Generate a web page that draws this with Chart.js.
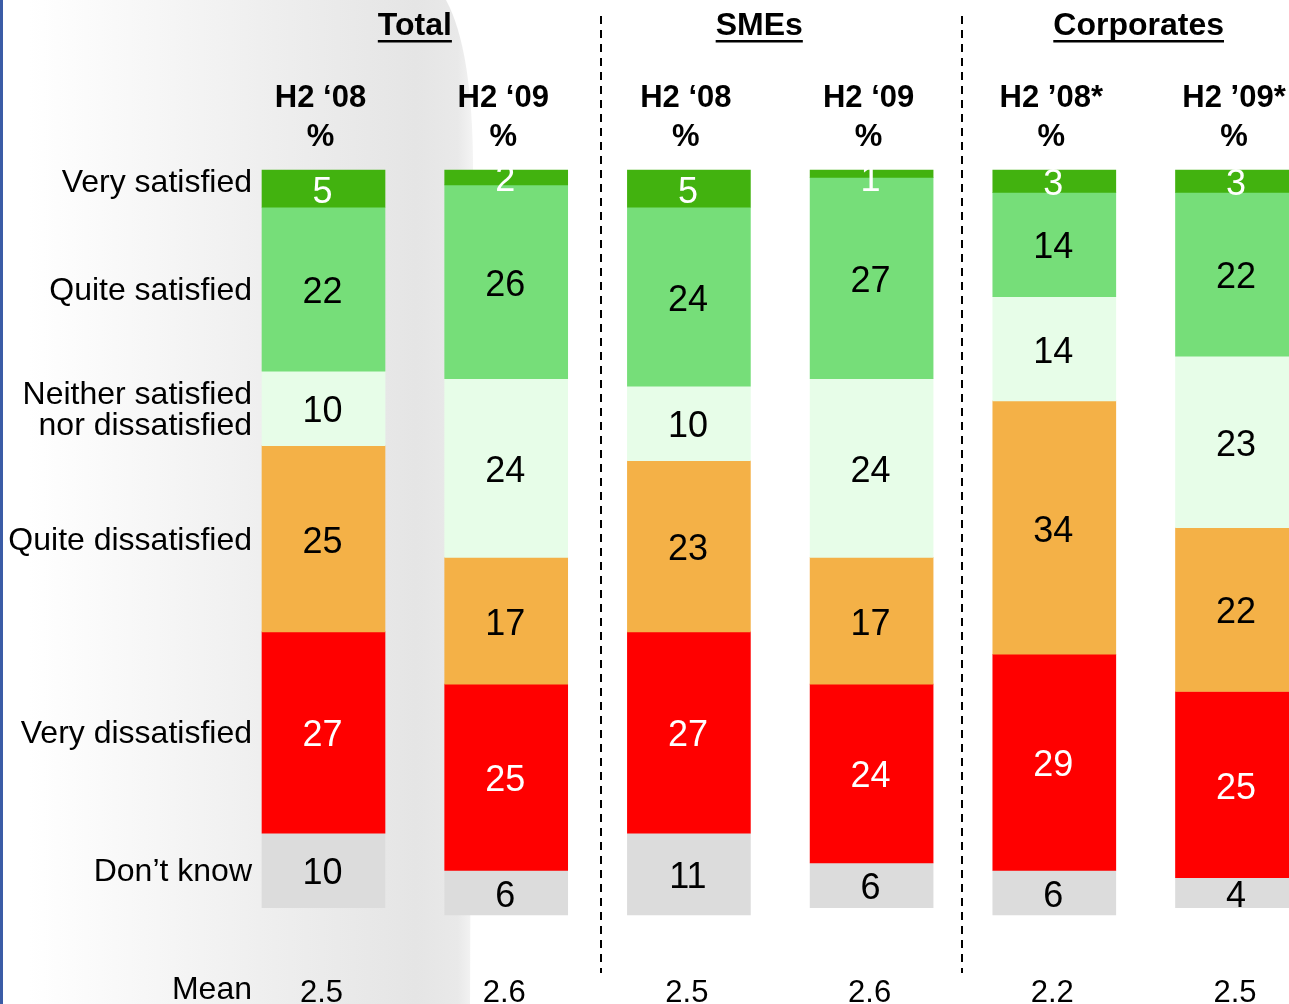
<!DOCTYPE html>
<html lang="en">
<head>
  <meta charset="UTF-8">
  <title>Satisfaction by segment</title>
  <script src="https://cdn.jsdelivr.net/npm/chart.js"></script>
  <style>
    html, body { margin: 0; padding: 0; background: #fff; overflow: hidden; }
    canvas { display: block; }
  </style>
</head>
<body>
<canvas id="chartSatisfaction" width="1289" height="1004"></canvas>

<script>
  // === Data ===
  const columns = ["H2 \u201808", "H2 \u201809", "H2 \u201808", "H2 \u201809", "H2 \u201908*", "H2 \u201909*"];
  const groupNames = ["Total", "SMEs", "Corporates"];
  const segmentNames = ["Very satisfied", "Quite satisfied", "Neither satisfied\nnor dissatisfied",
                        "Quite dissatisfied", "Very dissatisfied", "Don\u2019t know"];
  const verySatisfied     = [5, 2, 5, 1, 3, 3];
  const quiteSatisfied    = [22, 26, 24, 27, 14, 22];
  const neither           = [10, 24, 10, 24, 14, 23];
  const quiteDissatisfied = [25, 17, 23, 17, 34, 22];
  const veryDissatisfied  = [27, 25, 27, 24, 29, 25];
  const dontKnow          = [10, 6, 11, 6, 6, 4];
  const means = ["2.5", "2.6", "2.5", "2.6", "2.2", "2.5"];

  const FONT = '"Liberation Sans", Arial, sans-serif';
  const colours   = ["#42b20f", "#76de79", "#e7fde8", "#f4b147", "#ff0000", "#dcdcdc"];
  const textColor = ["#ffffff", "#000000", "#000000", "#000000", "#ffffff", "#000000"];
  const series = [verySatisfied, quiteSatisfied, neither, quiteDissatisfied, veryDissatisfied, dontKnow];

  // === Slide background: soft grey fade on the left, blue edge ===
  const background = {
    id: "background",
    beforeDraw(chart) {
      const { ctx, width, height } = chart;
      ctx.save();
      ctx.fillStyle = "#ffffff";
      ctx.fillRect(0, 0, width, height);
      const g = ctx.createLinearGradient(0, 0, 472, 0);
      g.addColorStop(0, "#ffffff");
      g.addColorStop(0.06, "#ffffff");
      g.addColorStop(0.55, "#efefef");
      g.addColorStop(0.88, "#e5e5e5");
      g.addColorStop(0.97, "#e9e9e9");
      g.addColorStop(1, "#f3f3f3");
      ctx.fillStyle = g;
      ctx.beginPath();
      ctx.moveTo(0, 0);
      ctx.lineTo(446, 0);
      ctx.quadraticCurveTo(473, 50, 473, 170);
      ctx.lineTo(470, height);
      ctx.lineTo(0, height);
      ctx.closePath();
      ctx.fill();
      ctx.fillStyle = "#3b5ca6";
      ctx.fillRect(0, 0, 3, height);
      ctx.restore();
    }
  };

  // === Headers, row names, value labels, means, separators ===
  const annotations = {
    id: "annotations",
    afterDatasetsDraw(chart) {
      const { ctx } = chart;
      const x = chart.scales.x;
      const cx = i => x.getPixelForValue(i);
      ctx.save();
      ctx.textBaseline = "middle";

      // values inside the segments
      ctx.font = "36px " + FONT;
      ctx.textAlign = "center";
      chart.data.datasets.forEach((ds, d) => {
        chart.getDatasetMeta(d).data.forEach((bar, i) => {
          const mid = (bar.y + bar.base) / 2;
          ctx.fillStyle = textColor[d];
          ctx.fillText(String(ds.data[i]), bar.x - 1, Math.max(mid + 4, 181));
        });
      });

      // row names, aligned with the first column
      ctx.font = "32px " + FONT;
      ctx.textAlign = "right";
      ctx.fillStyle = "#000";
      segmentNames.forEach((name, d) => {
        const bar = chart.getDatasetMeta(d).data[0];
        let mid = (bar.y + bar.base) / 2 + 2;
        if (d === 0) mid -= 7;
        const lines = name.split("\n");
        lines.forEach((ln, k) => {
          ctx.fillText(ln, 252, mid + (k - (lines.length - 1) / 2) * 31);
        });
      });
      ctx.fillText("Mean", 252, 990);

      // mean row
      ctx.textAlign = "center";
      ctx.font = "31px " + FONT;
      means.forEach((m, i) => ctx.fillText(m, cx(i) - 2, 993));

      // column headers
      ctx.font = "bold 31px " + FONT;
      columns.forEach((c, i) => {
        ctx.fillText(c, cx(i) - 3, 98);
        ctx.fillText("%", cx(i) - 3, 137);
      });

      // group titles, underlined
      ctx.font = "bold 32px " + FONT;
      const titleShift = [0, -21, -7];
      groupNames.forEach((g, k) => {
        const tx = (cx(2 * k) + cx(2 * k + 1)) / 2 + titleShift[k];
        ctx.fillText(g, tx, 26);
        const w = ctx.measureText(g).width;
        ctx.fillRect(tx - w / 2, 40, w, 2.5);
      });

      // dashed separators between groups
      ctx.strokeStyle = "#000";
      ctx.lineWidth = 2;
      ctx.setLineDash([8, 6]);
      [[1, 3], [3, -1]].forEach(([i, shift]) => {
        const sx = Math.round((cx(i) + cx(i + 1)) / 2) + shift;
        ctx.beginPath();
        ctx.moveTo(sx, 16);
        ctx.lineTo(sx, 973);
        ctx.stroke();
      });
      ctx.restore();
    }
  };

  new Chart(document.getElementById("chartSatisfaction"), {
    type: "bar",
    data: {
      labels: columns,
      datasets: series.map((vals, d) => ({
        label: segmentNames[d],
        data: vals,
        backgroundColor: colours[d],
        borderWidth: 0,
        barThickness: 123,
        clip: false
      }))
    },
    options: {
      responsive: false,
      animation: false,
      layout: { padding: { top: 170, bottom: 89, left: 323.5, right: 52 } },
      plugins: {
        legend: { display: false },
        tooltip: { enabled: false },
        title: { display: false }
      },
      scales: {
        x: { stacked: true, display: false, offset: false, grid: { display: false } },
        y: { stacked: true, display: false, reverse: true, min: 0, max: 100 }
      }
    },
    plugins: [background, annotations]
  });
</script>
</body>
</html>
